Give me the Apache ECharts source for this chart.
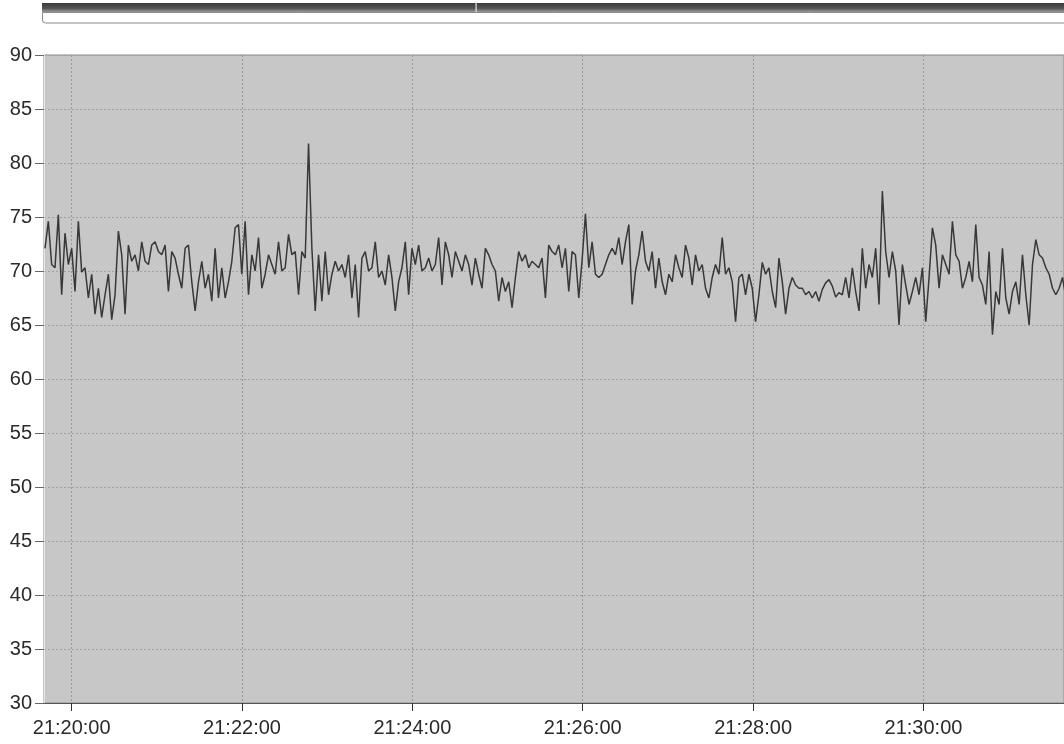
<!DOCTYPE html>
<html><head><meta charset="utf-8">
<script src="https://cdn.jsdelivr.net/npm/echarts@6/dist/echarts.min.js"></script>
<style>html,body{margin:0;padding:0;background:#fff}#c{width:1064px;height:744px}</style>
</head><body><div id="c"></div>
<script>
// time of first sample, in seconds relative to 21:20:00, and sampling step (s)
const startSec = -18.8;
const stepSec = 2.35;
const values = [
72.1,74.6,70.6,70.3,75.2,67.8,73.5,70.6,72.1,68.1,74.6,69.9,70.3,67.5,69.7,66.0,68.4,65.7,67.8,69.7,
65.5,67.8,73.7,71.5,66.0,72.4,70.9,71.5,70.0,72.7,70.9,70.6,72.4,72.7,71.8,71.5,72.4,68.1,71.8,71.2,
69.7,68.4,72.1,72.4,69.0,66.3,69.0,70.9,68.4,69.7,67.2,72.1,67.5,70.3,67.5,69.0,70.9,74.0,74.3,69.7,
74.6,67.8,71.5,70.0,73.1,68.4,69.7,71.5,70.6,69.7,72.7,70.0,70.3,73.4,71.5,71.8,67.8,71.8,71.2,81.8,
72.1,66.3,71.5,
67.2,71.8,67.8,69.7,70.9,70.0,70.6,69.4,71.5,67.5,70.6,65.7,71.2,71.8,70.0,70.3,72.7,69.4,70.0,68.7,
71.5,69.4,66.3,69.0,70.3,72.7,67.8,72.1,70.6,72.4,70.0,70.3,71.2,70.0,70.6,73.1,68.7,72.7,71.5,69.4,
71.8,70.9,70.0,71.5,70.6,68.7,71.2,69.7,68.4,72.1,71.5,70.6,70.0,67.2,69.4,68.1,69.0,66.6,69.4,71.8,
70.9,71.5,70.3,70.9,70.6,70.3,71.2,67.5,72.4,71.8,71.5,72.4,70.3,72.1,68.1,71.8,71.5,67.5,
71.0,75.3,70.3,72.7,69.7,69.4,69.7,70.6,71.5,72.1,71.5,73.1,70.6,72.7,74.3,66.9,70.0,71.5,73.7,70.9,
70.0,71.8,68.4,71.2,69.0,67.8,69.7,69.0,71.5,70.3,69.4,72.4,71.2,68.7,71.5,70.0,70.6,68.4,67.5,69.4,
70.6,69.7,73.1,69.7,70.3,69.0,65.3,69.4,69.7,67.8,69.7,68.4,65.3,67.8,70.8,69.7,70.3,68.1,66.6,71.2,
69.0,66.0,68.4,69.4,68.7,68.4,68.4,67.8,68.1,67.5,68.1,67.2,
68.3,68.9,69.2,68.6,67.6,68.0,67.8,69.4,67.5,70.3,68.1,66.3,72.1,68.4,70.6,69.4,72.1,66.9,77.4,71.8,
69.4,71.8,70.0,65.0,70.6,68.7,66.9,68.1,69.4,67.8,70.3,65.3,69.4,74.0,72.4,68.4,71.5,70.6,69.7,74.6,
71.5,70.9,68.4,69.4,70.9,69.0,74.3,69.4,68.7,66.9,71.8,64.1,68.1,66.9,72.1,67.5,66.0,68.1,69.0,66.9,
71.5,67.8,65.0,70.6,72.9,71.5,71.2,70.3,69.7,68.4,67.8,68.4,69.4,67.5
];
const tickSecs = [0, 120, 240, 360, 480, 600];
const tickLabels = ['21:20:00', '21:22:00', '21:24:00', '21:26:00', '21:28:00', '21:30:00'];

const data = values.map((v, i) => [startSec + i * stepSec, v]);

const chart = echarts.init(document.getElementById('c'), null, {renderer: 'canvas'});
const font = '"Liberation Sans", Arial, sans-serif';
chart.setOption({
  animation: false,
  backgroundColor: '#ffffff',
  grid: {
    left: 44, right: 0, top: 55, bottom: 41,
    show: true, backgroundColor: '#c7c7c7', borderColor: '#8c8c8c', borderWidth: 1,
    outerBoundsMode: 'none'
  },
  xAxis: {
    type: 'value', min: -19.5, max: 699,
    axisLine: {show: true, onZero: false, lineStyle: {color: '#555', width: 1}},
    axisTick: {show: true, customValues: tickSecs, length: 8, lineStyle: {color: '#333'}},
    axisLabel: {
      customValues: tickSecs, margin: 15,
      color: '#2a2a2a', fontSize: 20, fontFamily: font,
      formatter: v => tickLabels[tickSecs.indexOf(Math.round(v))] || ''
    },
    splitLine: {show: true, lineStyle: {color: '#999', type: [2, 2], width: 1}}
  },
  yAxis: {
    type: 'value', min: 30, max: 90, interval: 5,
    axisLine: {show: true, onZero: false, lineStyle: {color: '#e4e4e4'}},
    axisTick: {show: true, length: 9, lineStyle: {color: '#666'}},
    axisLabel: {color: '#2a2a2a', fontSize: 20, fontFamily: font, margin: 12},
    splitLine: {show: true, lineStyle: {color: '#a0a0a0', type: [2, 2], width: 1}}
  },
  series: [{
    type: 'line', data: data, showSymbol: false, symbol: 'none',
    lineStyle: {color: '#383838', width: 1.5}, clip: true
  }],
  graphic: [
    {type: 'rect', shape: {x: 42, y: 3, width: 1030, height: 9},
     style: {fill: new echarts.graphic.LinearGradient(0, 0, 0, 1, [
       {offset: 0, color: '#3a3a3a'}, {offset: 0.6, color: '#555'}, {offset: 1, color: '#9a9a9a'}])}},
    {type: 'rect', shape: {x: 475.5, y: 3, width: 1.2, height: 9}, style: {fill: '#e8e8e8'}},
    {type: 'rect', shape: {x: 42.5, y: 12.5, width: 1030, height: 10.5, r: [0, 0, 0, 3]},
     style: {fill: '#ffffff', stroke: '#8a8a8a', lineWidth: 1}}
  ]
});
</script></body></html>
